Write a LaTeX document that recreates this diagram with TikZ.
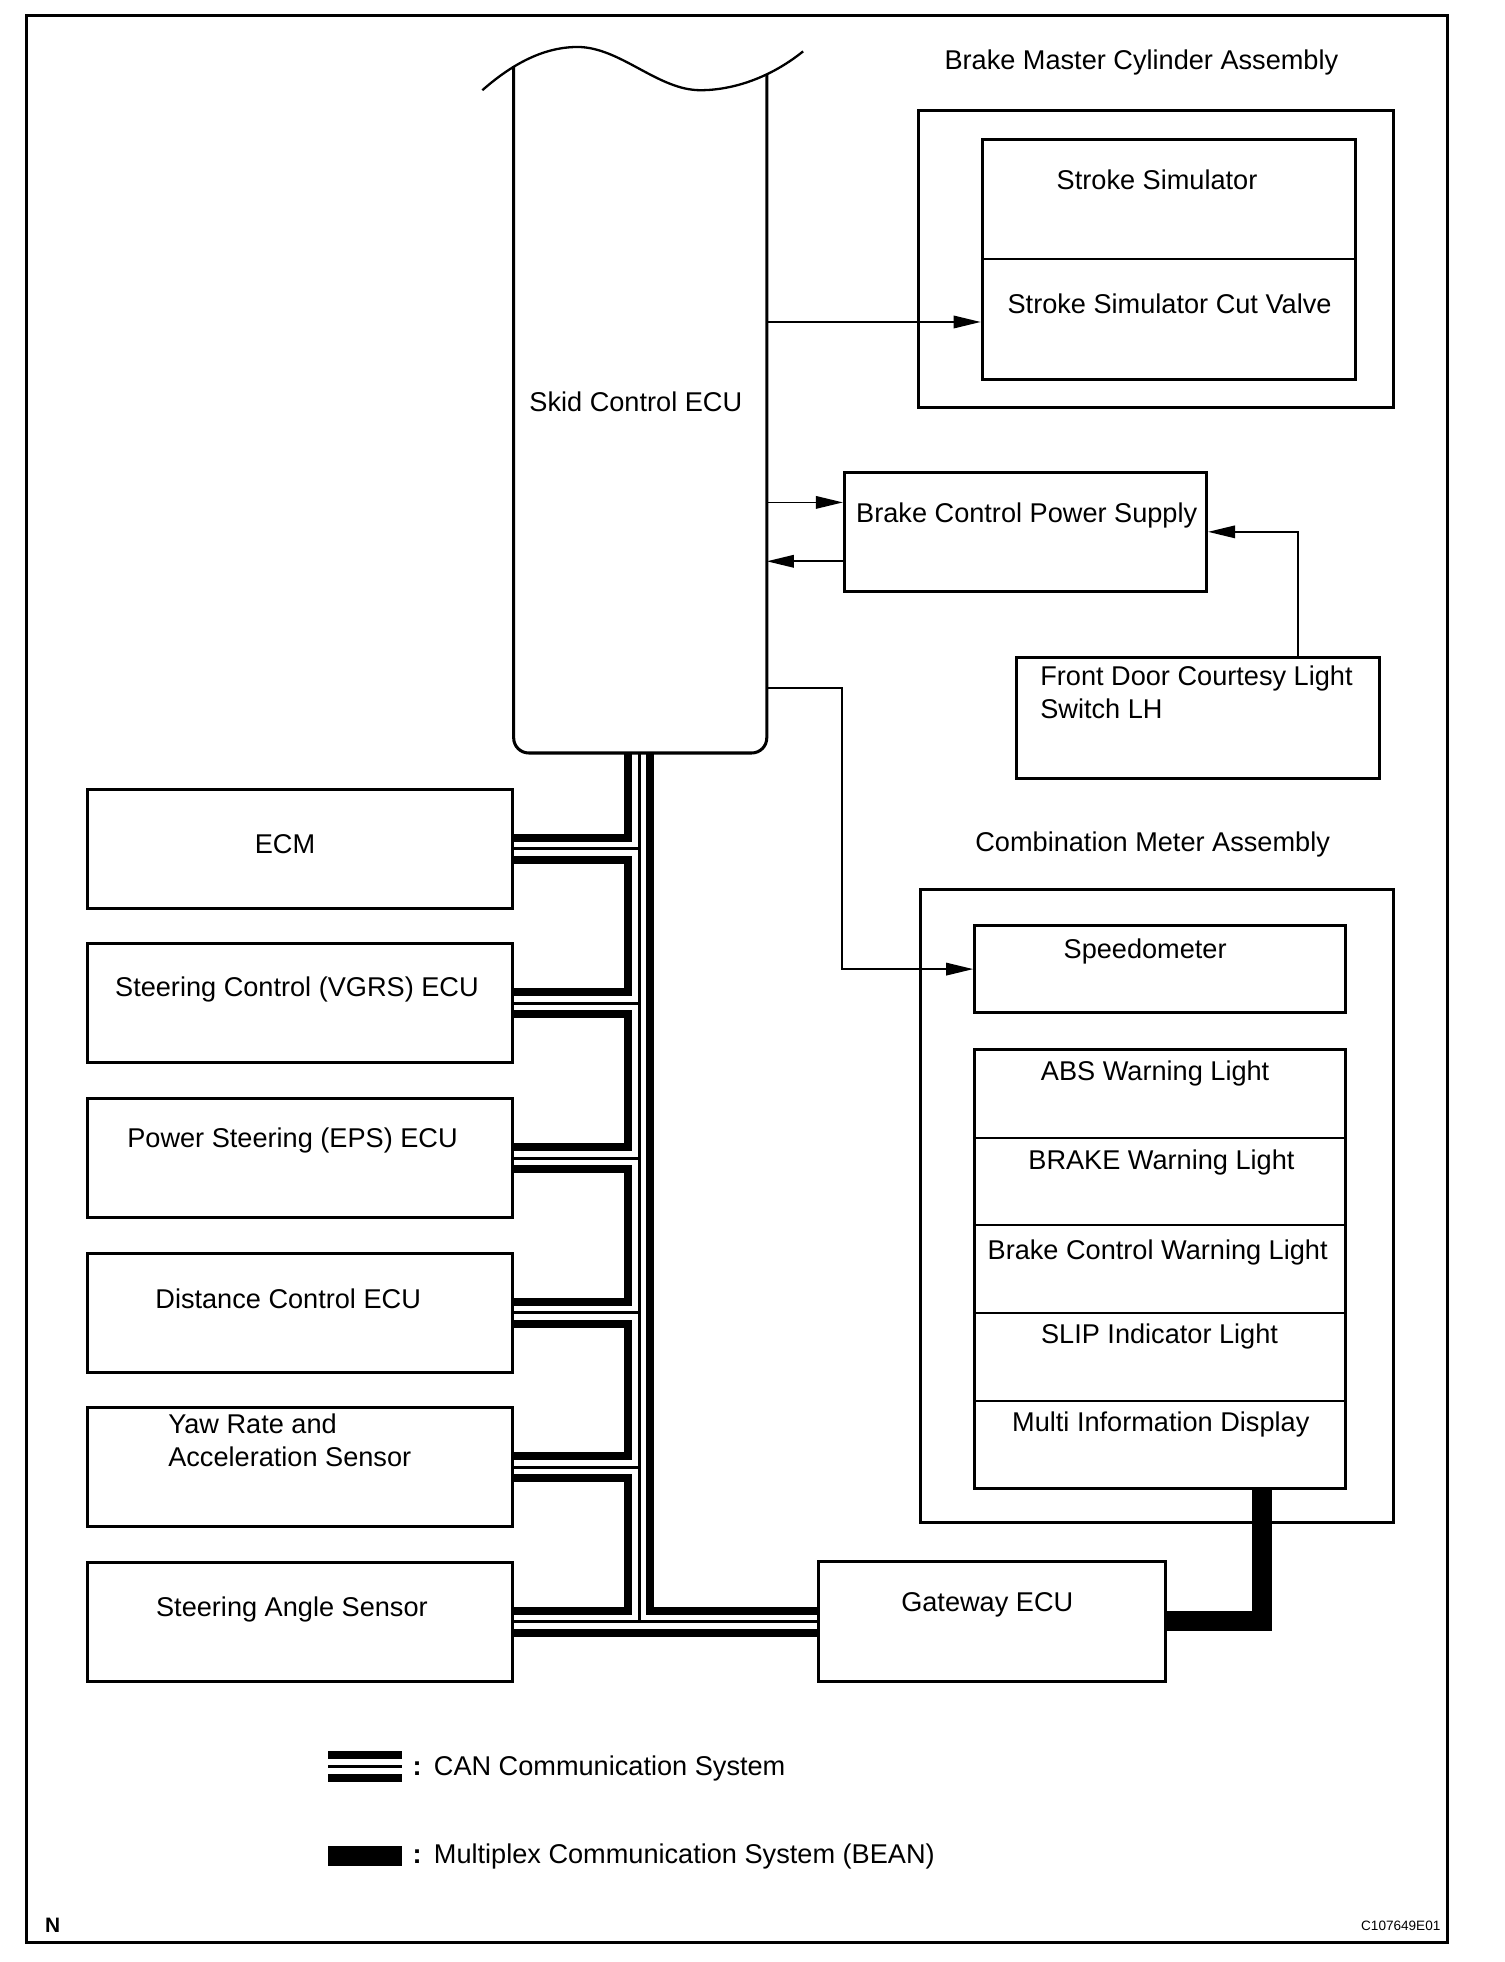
\documentclass[tikz,border=0pt]{standalone}
\usepackage{fontspec}
\setmainfont{Liberation Sans}
\usetikzlibrary{arrows.meta,fit,calc}
\begin{document}
\begin{tikzpicture}[x=0.6pt,y=-0.6pt,
  box/.style={draw,line width=1.45pt,inner sep=0pt},
  lbl/.style={font=\fontsize{13}{15}\selectfont,inner sep=0pt,text height=9.3pt,text depth=0pt,yshift=0.9pt},
  divider/.style={line width=1.0pt},
  arr/.style={line width=0.85pt,-{Triangle[length=13pt,width=6pt]}},
  canthick/.style={line width=3.84pt,line join=miter,line cap=butt},
  canthin/.style={line width=1.44pt,line cap=butt},
  bean/.style={line width=9.6pt,line join=miter,line cap=butt}]
\useasboundingbox (0,0) rectangle (1201,1566);
% frame
\draw[line width=1.45pt] (21.5,12) rectangle (1155.5,1550.5);

% Skid Control ECU
\draw[line width=1.45pt,rounded corners=7.2pt] (410,52.7) -- (410,601) -- (612,601) -- (612,59);
\draw[line width=1.1pt] (385,72) .. controls (410,50) and (435,37.5) .. (461,37.5)
  .. controls (495,37.5) and (525,72) .. (559,72)
  .. controls (585,72) and (615,62) .. (641,41);
\node[fit={(410,37.5)(612,601)},inner sep=0pt] (ecu) {};
\node[lbl] (ecutxt) at (507.5,322) {Skid Control ECU};

% Brake master cylinder assembly
\node[lbl] (bmtitle) at (911,49) {Brake Master Cylinder Assembly};
\node[box,fit={(733,88)(1112,325)}] (bmc) {};
\node[box,fit={(784,111)(1082,303)}] (ss) {};
\draw[divider] (784,207) -- (1082,207);
\node[lbl] (sstxt) at (923.5,145) {Stroke Simulator};
\node[lbl] (sscvtxt) at (933.5,244) {Stroke Simulator Cut Valve};
\coordinate (e1) at (612,257);
\draw[arr] (e1) -- (e1 -| ss.west);

% Brake control power supply
\node[box,fit={(674,377)(963,472)}] (bcps) {};
\node[lbl] (bcpstxt) at (819.5,411) {Brake Control Power Supply};
\coordinate (e2) at (612,401);
\coordinate (e3) at (612,448);
\draw[arr] (e2) -- (e2 -| bcps.west);
\draw[arr] (e3 -| bcps.west) -- (e3);

% Front door courtesy light switch
\node[box,fit={(811,525)(1101,621)}] (fd) {};
\node[lbl,anchor=west] (fdt1) at (830,541) {Front Door Courtesy Light};
\node[lbl,anchor=west] (fdt2) at (830,567) {Switch LH};
\draw[arr] ($(fd.north)+(80,0)$) |- (bcps.east);

% Combination meter assembly
\node[lbl] (cmtitle) at (920,673) {Combination Meter Assembly};
\node[box,fit={(735,710)(1112,1215)}] (cma) {};
\node[box,fit={(778,739)(1074,808)}] (speedo) {};
\node[lbl] (speedotxt) at (914,759) {Speedometer};
\node[box,fit={(778,838)(1074,1188)}] (stack) {};
\foreach \yy in {908,978,1048,1118} \draw[divider] (778,\yy) -- (1074,\yy);
\node[lbl] (abs) at (922,856) {ABS Warning Light};
\node[lbl] (brk) at (927,927) {BRAKE Warning Light};
\node[lbl] (bcw) at (924,999) {Brake Control Warning Light};
\node[lbl] (slip) at (925.5,1066) {SLIP Indicator Light};
\node[lbl] (mid) at (926.5,1136) {Multi Information Display};
\coordinate (e4) at (612,549);
\draw[arr] (e4) -- ++(60,0) |- (speedo.west);

% left ECUs
\node[box,fit={(70,630)(409,725)}] (ecm) {};
\node[box,fit={(70,753.4)(409,848.4)}] (sc) {};
\node[box,fit={(70,876.8)(409,971.8)}] (ps) {};
\node[box,fit={(70,1000.2)(409,1095.2)}] (dc) {};
\node[box,fit={(70,1123.6)(409,1218.6)}] (yr) {};
\node[box,fit={(70,1247)(409,1342)}] (sa) {};
\node[lbl] (ecmtxt) at (227.5,675) {ECM};
\node[lbl] (sctxt) at (237,789) {Steering Control (VGRS) ECU};
\node[lbl] (pstxt) at (233.5,910) {Power Steering (EPS) ECU};
\node[lbl] (dctxt) at (230,1038) {Distance Control ECU};
\node[lbl,anchor=west] (yrt1) at (134,1138) {Yaw Rate and};
\node[lbl,anchor=west] (yrt2) at (134,1164) {Acceleration Sensor};
\node[lbl] (satxt) at (233,1284) {Steering Angle Sensor};

% Gateway ECU
\node[box,fit={(653,1246)(930,1342)}] (gw) {};
\node[lbl] (gwtxt) at (788,1280) {Gateway ECU};

% CAN bus
\foreach \n in {ecm,sc,ps,dc,yr,sa} {
  \coordinate (\n A) at ($(\n.east)+(0,-8.8)$);
  \coordinate (\n M) at (\n.east);
  \coordinate (\n B) at ($(\n.east)+(0,8.8)$);
}
\coordinate (bL) at (501.4,601);
\coordinate (bT) at (510.6,601);
\coordinate (bR) at (519,601);
\draw[canthick] (bL) |- (ecmA);
\draw[canthick] (ecmB) -- (ecmB -| bL) |- (scA);
\draw[canthick] (scB) -- (scB -| bL) |- (psA);
\draw[canthick] (psB) -- (psB -| bL) |- (dcA);
\draw[canthick] (dcB) -- (dcB -| bL) |- (yrA);
\draw[canthick] (yrB) -- (yrB -| bL) |- (saA);
\draw[canthin] (bT) -- (bT |- saM);
\foreach \n in {ecm,sc,ps,dc,yr} \draw[canthin] (\n M) -- (\n M -| bT);
\draw[canthin] (saM) -- (saM -| gw.west);
\draw[canthick] (bR) |- (saA -| gw.west);
\draw[canthick] (saB) -- (saB -| gw.west);

% BEAN
\draw[bean] ($(stack.south)+(81.6,0)$) |- (gw.east);

% legend
\draw[canthick] (262,1400.6) -- (321,1400.6);
\draw[canthin] (262,1410) -- (321,1410);
\draw[canthick] (262,1419.4) -- (321,1419.4);
\node[lbl] (col1) at (333,1411) {\textbf{:}};
\node[lbl,anchor=west] (lg1) at (346,1411) {CAN Communication System};
\fill (262,1473) rectangle (321,1489);
\node[lbl] (col2) at (333,1481) {\textbf{:}};
\node[lbl,anchor=west] (lg2) at (346,1481) {Multiplex Communication System (BEAN)};

% corner labels
\node[font=\fontsize{10}{12}\selectfont\bfseries,inner sep=0pt] (nlab) at (42,1537) {N};
\node[font=\fontsize{6.5}{8}\selectfont,anchor=east,inner sep=0pt] (code) at (1150,1537) {C107649E01};
\end{tikzpicture}
\end{document}
